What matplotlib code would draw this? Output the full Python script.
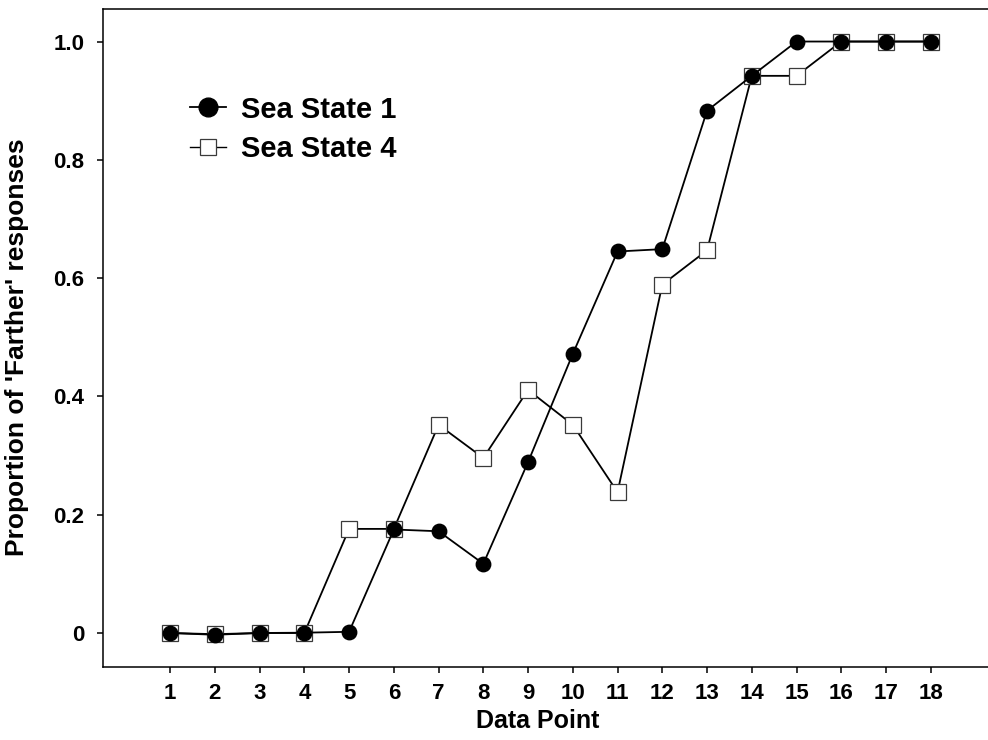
import matplotlib
matplotlib.use("Agg")
import matplotlib.pyplot as plt
from matplotlib.lines import Line2D
from matplotlib.ticker import FixedLocator, FuncFormatter

plt.rcParams['font.family'] = ['Liberation Sans', 'DejaVu Sans']
plt.rcParams['font.weight'] = 'bold'

data_points = list(range(1, 19))
sea_state_1 = [0.0, -0.003, 0.0, 0.0005, 0.002, 0.175, 0.172, 0.117, 0.289, 0.472,
               0.645, 0.649, 0.883, 0.942, 1.0, 1.0, 1.0, 1.0]
sea_state_4 = [0.0, -0.002, 0.0, 0.0, 0.176, 0.176, 0.352, 0.296, 0.411, 0.352,
               0.238, 0.589, 0.647, 0.942, 0.942, 1.0, 1.0, 1.0]
y_ticks = [0.0, 0.2, 0.4, 0.6, 0.8, 1.0]
labels = ["Sea State 1", "Sea State 4"]

W, H = 988, 740
fig = plt.figure(figsize=(W / 100, H / 100), dpi=100)
ax = fig.add_axes([103 / W, 1 - 667 / H, (W - 103) / W + 0.01, (667 - 9) / H])
ax_w = ax.get_position().width * W

ax.plot(data_points, sea_state_4, color='black', lw=1.3, marker='s', ms=11.2,
        mfc='white', mec='#3a3a3a', mew=0.9, zorder=2)
ax.plot(data_points, sea_state_1, color='black', lw=1.3, marker='o', ms=10.4,
        mfc='black', mec='black', zorder=3)

ax.set_xlim(-0.5, 19.5)
ax.set_ylim(-0.0575, 1.055)
ax.xaxis.set_major_locator(FixedLocator(data_points))
ax.yaxis.set_major_locator(FixedLocator(y_ticks))
ax.yaxis.set_major_formatter(FuncFormatter(lambda v, p: '0' if abs(v) < 1e-9 else f'{v:.1f}'))

for s in ['top', 'bottom', 'left']:
    ax.spines[s].set_linewidth(1.1)
ax.spines['right'].set_visible(False)

ax.tick_params(axis='both', direction='out', length=4.3, width=1.1, labelsize=16)
ax.tick_params(axis='x', pad=7)
ax.tick_params(axis='y', pad=9)
for lab in ax.get_xticklabels() + ax.get_yticklabels():
    lab.set_fontweight('bold')

ax.set_xlabel('Data Point', fontsize=18, fontweight='bold', labelpad=4)
ax.xaxis.set_label_coords((537.5 - 103) / ax_w, -(709 - 667) / 658)
ax.set_ylabel("Proportion of 'Farther' responses", fontsize=19, fontweight='bold')
ax.yaxis.set_label_coords(-(103 - 29) / ax_w, (667 - 347) / 658)

handles = [
    Line2D([], [], color='black', lw=1.3, marker='o', ms=13.5, mfc='black', mec='black'),
    Line2D([], [], color='black', lw=1.0, marker='s', ms=11.2, mfc='white', mec='#3a3a3a', mew=0.9),
]
leg = ax.legend(handles, labels, loc='center left',
                bbox_to_anchor=((190 - 103) / ax_w, (667 - 129.5) / 658),
                frameon=False, handlelength=1.25, handletextpad=0.5,
                labelspacing=0.4, borderpad=0, borderaxespad=0,
                prop={'weight': 'bold', 'size': 21})

fig.savefig('out.png', dpi=100)
